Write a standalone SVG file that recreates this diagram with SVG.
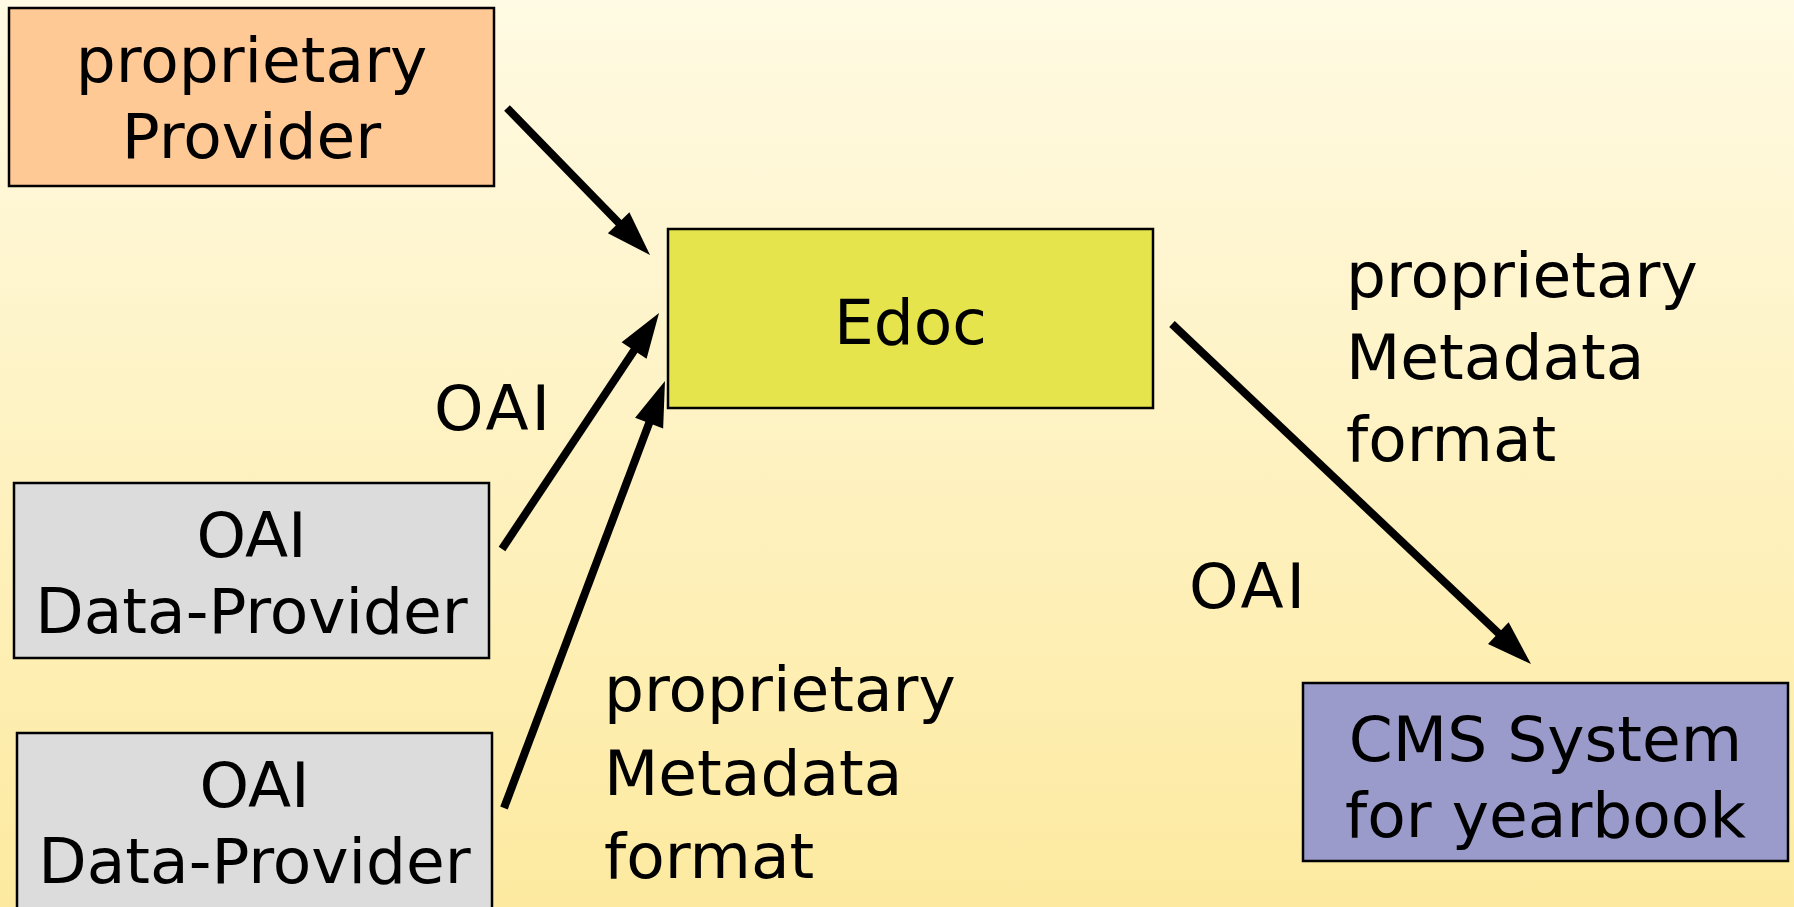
<svg xmlns="http://www.w3.org/2000/svg" width="1794" height="907" viewBox="0 0 1794 907">
<style>
text{font-family:"DejaVu Sans",Verdana,sans-serif;font-size:63px;fill:#000}
.c{text-anchor:middle}
.box{stroke:#000;stroke-width:2.5}
.conn{stroke:#000;stroke-width:8;fill:none;marker-end:url(#ah)}
</style>
<defs>
<linearGradient id="bg" x1="0" y1="0" x2="0" y2="1">
<stop offset="0" stop-color="#fffae3"/>
<stop offset="1" stop-color="#fdeaa0"/>
</linearGradient>
<marker id="ah" markerUnits="userSpaceOnUse" markerWidth="46" markerHeight="32" refX="15" refY="15" orient="auto" overflow="visible">
<path d="M0,0 L45,15 L0,30 z" fill="#000"/>
</marker>
</defs>
<rect width="1794" height="907" fill="url(#bg)"/>
<g id="connectors">
<line class="conn" x1="507" y1="108" x2="629.1" y2="233.5"/>
<line class="conn" x1="502" y1="549" x2="642.4" y2="338"/>
<line class="conn" x1="504" y1="808" x2="654.4" y2="409.1"/>
<line class="conn" x1="1172" y1="324" x2="1509.2" y2="643.4"/>
</g>
<g id="labels">
<text x="434" y="430" letter-spacing="3">OAI</text>
<text x="1346" y="297">proprietary</text>
<text x="1346" y="379">Metadata</text>
<text x="1346" y="461">format</text>
<text x="1189" y="608" letter-spacing="3">OAI</text>
<text x="604" y="711">proprietary</text>
<text x="604" y="795">Metadata</text>
<text x="604" y="878">format</text>
</g>
<g id="proprietary-provider">
<rect class="box" x="9" y="8" width="485" height="178" fill="#ffc996"/>
<text class="c" x="251.5" y="82">proprietary</text>
<text class="c" x="251.5" y="158">Provider</text>
</g>
<g id="edoc">
<rect class="box" x="668" y="229" width="485" height="179" fill="#e6e44c"/>
<text class="c" x="910.5" y="344">Edoc</text>
</g>
<g id="oai-data-provider-1">
<rect class="box" x="14" y="483" width="475" height="175" fill="#dcdcdc"/>
<text class="c" x="251.5" y="557">OAI</text>
<text class="c" x="251.5" y="633">Data-Provider</text>
</g>
<g id="oai-data-provider-2">
<rect class="box" x="17" y="733" width="475" height="180" fill="#dcdcdc"/>
<text class="c" x="254.5" y="807">OAI</text>
<text class="c" x="254.5" y="883">Data-Provider</text>
</g>
<g id="cms">
<rect class="box" x="1303" y="683" width="485" height="178" fill="#9b9bcb"/>
<text class="c" x="1545.5" y="761">CMS System</text>
<text class="c" x="1545.5" y="837">for yearbook</text>
</g>
</svg>
